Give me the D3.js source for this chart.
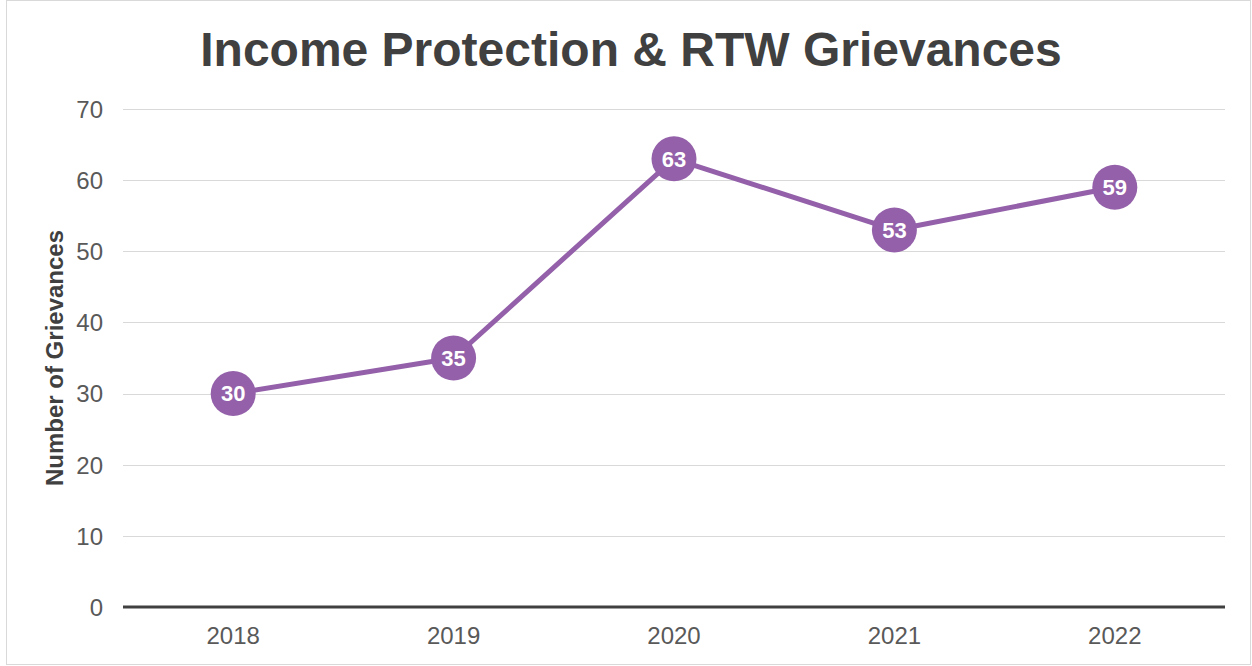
<!DOCTYPE html>
<html>
<head>
<meta charset="utf-8">
<script src="https://cdn.jsdelivr.net/npm/d3@7/dist/d3.min.js"></script>
<style>
  html, body { margin: 0; padding: 0; background: #fff; }
  svg { display: block; }
</style>
</head>
<body>
<svg id="chart" width="1252" height="666"></svg>
<script>
// Yearly grievance counts
const years = ["2018", "2019", "2020", "2021", "2022"];
const grievances = [30, 35, 63, 53, 59];
const yTicks = [0, 10, 20, 30, 40, 50, 60, 70];

const W = 1252, H = 666;
const plot = { left: 123, right: 1225, top: 109, bottom: 607 };
const font = "'Liberation Sans', Arial, sans-serif";
const purple = "#9360a9";

const svg = d3.select("#chart").style("font-family", font);

// Outer chart frame
svg.append("rect")
  .attr("x", 6.5).attr("y", 0.5)
  .attr("width", W - 8).attr("height", H - 2)
  .attr("fill", "#fff").attr("stroke", "#d9d9d9").attr("stroke-width", 1);

const x = d3.scaleBand().domain(years).range([plot.left, plot.right]);
const y = d3.scaleLinear().domain([0, 70]).range([plot.bottom, plot.top]);

// Horizontal gridlines
svg.append("g")
  .selectAll("line")
  .data(yTicks.filter(d => d > 0))
  .join("line")
  .attr("x1", plot.left).attr("x2", plot.right)
  .attr("y1", d => Math.round(y(d)) + 0.5).attr("y2", d => Math.round(y(d)) + 0.5)
  .attr("stroke", "#d9d9d9").attr("stroke-width", 1);

// Y axis labels
const yAxis = d3.axisLeft(y).tickValues(yTicks).tickSize(0).tickPadding(0);
svg.append("g")
  .attr("transform", `translate(${plot.left - 20},0)`)
  .call(yAxis)
  .call(g => g.select(".domain").remove())
  .call(g => g.selectAll("text")
    .attr("font-family", font).attr("font-size", 24).attr("fill", "#595959")
    .attr("dy", "0.35em"));

// X axis labels
const xAxis = d3.axisBottom(x).tickSize(0).tickPadding(0);
svg.append("g")
  .attr("transform", `translate(0,${plot.bottom + 20})`)
  .call(xAxis)
  .call(g => g.select(".domain").remove())
  .call(g => g.selectAll("text")
    .attr("font-family", font).attr("font-size", 24).attr("fill", "#595959")
    .attr("dy", "0.72em"));

// Baseline at zero
svg.append("line")
  .attr("x1", plot.left).attr("x2", plot.right)
  .attr("y1", y(0)).attr("y2", y(0))
  .attr("stroke", "#404040").attr("stroke-width", 3);

// Series line
const pts = years.map((yr, i) => ({ yr, v: grievances[i] }));
const line = d3.line()
  .x(d => x(d.yr) + x.bandwidth() / 2)
  .y(d => y(d.v));

svg.append("path")
  .datum(pts)
  .attr("d", line)
  .attr("fill", "none")
  .attr("stroke", purple)
  .attr("stroke-width", 5)
  .attr("stroke-linejoin", "round");

// Markers with value labels
const m = svg.append("g").selectAll("g").data(pts).join("g")
  .attr("transform", d => `translate(${x(d.yr) + x.bandwidth() / 2},${y(d.v)})`);
m.append("circle").attr("r", 22.5).attr("fill", purple);
m.append("text")
  .text(d => d.v)
  .attr("text-anchor", "middle")
  .attr("dy", "0.36em")
  .attr("font-size", 22).attr("font-weight", "bold").attr("fill", "#fff");

// Title
svg.append("text")
  .attr("x", 631).attr("y", 66)
  .attr("text-anchor", "middle")
  .attr("font-size", 48).attr("font-weight", "bold").attr("fill", "#404040")
  .text("Income Protection & RTW Grievances");

// Y axis title
svg.append("text")
  .attr("transform", `translate(63,358) rotate(-90)`)
  .attr("text-anchor", "middle")
  .attr("font-size", 24).attr("font-weight", "bold").attr("fill", "#404040")
  .text("Number of Grievances");
</script>
</body>
</html>
